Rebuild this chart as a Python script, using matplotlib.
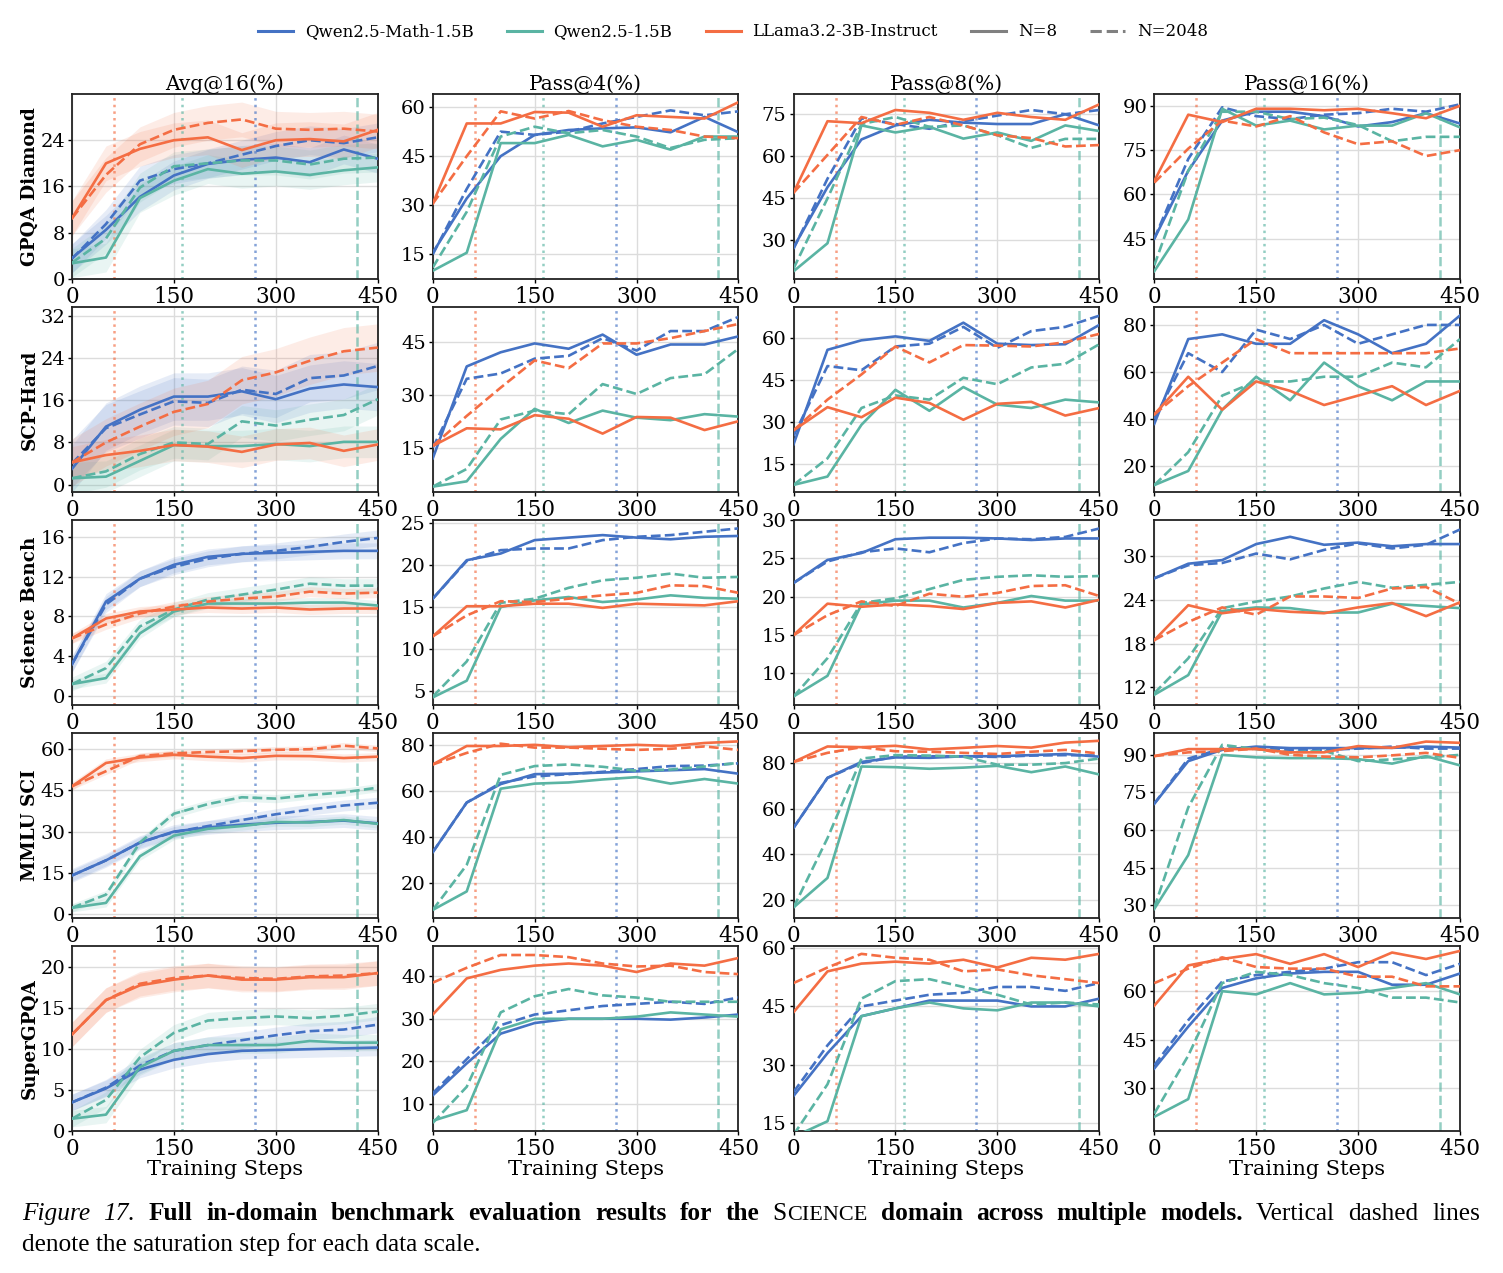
import matplotlib

matplotlib.use("Agg")
import matplotlib.pyplot as plt
import numpy as np
from matplotlib.lines import Line2D

plt.rcParams["font.family"] = ["DejaVu Serif"]

# 学習ステップ
steps = [0, 50, 100, 150, 200, 250, 300, 350, 400, 450]

models = ["Qwen2.5-Math-1.5B", "Qwen2.5-1.5B", "LLama3.2-3B-Instruct"]
colors = ["#4472c4", "#5ab4a3", "#f46d43"]
benchmarks = ["GPQA Diamond", "SCP-Hard", "Science Bench", "MMLU SCI", "SuperGPQA"]
metrics = ["Avg@16(%)", "Pass@4(%)", "Pass@8(%)", "Pass@16(%)"]

# 各系列の順番: Math N=8, Math N=2048, Qwen N=8, Qwen N=2048, Llama N=8, Llama N=2048
gpqa_avg = [
    [3.6, 8.5, 14.2, 17.9, 19.9, 20.6, 21.0, 20.2, 22.4, 20.8],
    [3.5, 9.5, 17.0, 19.0, 20.0, 21.5, 23.0, 24.0, 23.5, 24.5],
    [2.7, 3.7, 14.0, 17.0, 19.0, 18.2, 18.6, 18.0, 18.8, 19.3],
    [2.8, 7.0, 15.8, 19.5, 20.0, 20.5, 20.5, 19.8, 20.8, 21.0],
    [10.5, 20.0, 22.5, 24.0, 24.5, 22.3, 24.0, 24.2, 23.8, 25.8],
    [10.5, 18.0, 23.3, 25.8, 27.0, 27.6, 26.0, 25.8, 26.0, 25.5],
]
gpqa_p4 = [
    [15.5, 32.1, 45.0, 51.5, 53.0, 53.5, 53.8, 52.3, 57.0, 52.3],
    [15.0, 35.0, 52.5, 51.5, 52.5, 55.0, 57.0, 59.0, 57.5, 58.7],
    [10.0, 15.5, 49.0, 49.0, 51.5, 48.0, 50.0, 47.0, 51.0, 51.0],
    [11.0, 28.0, 51.0, 54.0, 52.0, 53.0, 51.0, 47.5, 50.0, 50.5],
    [30.5, 55.0, 55.0, 58.5, 58.3, 54.0, 57.5, 57.0, 56.5, 61.5],
    [30.5, 45.0, 58.7, 56.5, 58.8, 56.0, 54.0, 53.0, 51.0, 50.5],
]
gpqa_p8 = [
    [27.5, 49.0, 66.0, 71.0, 73.0, 72.0, 71.5, 71.5, 75.0, 71.0],
    [27.0, 52.0, 73.5, 71.5, 69.8, 72.5, 74.5, 76.5, 75.0, 76.5],
    [19.0, 29.0, 71.0, 68.5, 70.5, 66.3, 68.5, 65.5, 71.0, 69.0],
    [20.0, 45.0, 71.5, 74.0, 70.5, 71.0, 67.5, 63.0, 66.2, 66.2],
    [47.0, 72.5, 71.8, 76.5, 75.5, 73.0, 75.5, 74.0, 73.0, 78.5],
    [47.0, 60.5, 74.0, 71.2, 74.0, 71.0, 67.5, 66.5, 63.5, 64.0],
]
gpqa_p16 = [
    [45.0, 68.0, 85.0, 88.0, 88.0, 86.5, 83.0, 84.5, 87.5, 84.0],
    [45.0, 72.0, 89.5, 86.5, 85.5, 87.0, 87.5, 89.0, 88.0, 90.5],
    [34.0, 51.5, 89.0, 83.3, 85.0, 82.0, 83.3, 83.3, 87.5, 82.7],
    [36.0, 68.0, 88.0, 88.0, 85.5, 86.0, 83.5, 78.0, 79.5, 79.5],
    [64.5, 87.0, 84.5, 89.0, 89.0, 88.5, 89.0, 87.5, 85.8, 90.0],
    [64.0, 75.5, 85.0, 83.0, 86.5, 81.0, 77.0, 78.0, 73.0, 75.0],
]

scp_avg = [
    [3.0, 11.0, 14.2, 16.7, 16.7, 17.7, 16.2, 18.2, 19.0, 18.5],
    [4.0, 10.7, 13.3, 15.8, 15.5, 18.0, 17.2, 20.2, 20.7, 22.5],
    [1.2, 1.5, 4.5, 7.5, 7.3, 7.3, 7.7, 7.3, 8.1, 8.1],
    [1.2, 2.5, 5.8, 8.0, 7.7, 12.0, 11.2, 12.3, 13.2, 16.2],
    [4.2, 5.6, 6.4, 7.5, 7.2, 6.2, 7.6, 7.9, 6.4, 7.6],
    [4.2, 8.0, 11.0, 13.8, 15.3, 19.8, 21.3, 23.5, 25.3, 26.0],
]
scp_p4 = [
    [12.0, 38.0, 42.0, 44.5, 43.0, 47.0, 41.3, 44.2, 44.2, 46.5],
    [15.0, 34.5, 36.0, 40.2, 41.0, 46.0, 42.5, 48.0, 48.0, 52.0],
    [4.0, 5.5, 17.5, 26.0, 22.0, 25.5, 23.5, 22.8, 24.5, 23.8],
    [4.0, 9.0, 23.0, 25.5, 24.5, 33.0, 30.2, 34.7, 35.8, 43.0],
    [15.5, 20.5, 20.2, 24.2, 23.2, 19.0, 23.7, 23.5, 20.0, 22.5],
    [15.5, 24.0, 32.0, 39.7, 37.5, 44.5, 44.5, 46.0, 48.0, 50.0],
]
scp_p8 = [
    [22.0, 55.8, 59.2, 60.6, 59.0, 65.5, 58.0, 57.5, 57.8, 64.7],
    [25.0, 50.0, 48.5, 57.0, 58.0, 64.0, 56.5, 62.5, 64.0, 68.0],
    [7.5, 10.5, 29.0, 41.5, 34.0, 42.5, 36.2, 35.0, 38.0, 37.0],
    [7.5, 17.0, 35.0, 39.5, 38.0, 45.8, 43.5, 49.5, 50.8, 57.8],
    [27.0, 35.3, 31.7, 38.7, 36.8, 30.8, 36.5, 37.2, 32.3, 35.0],
    [27.0, 38.0, 47.0, 57.0, 51.3, 57.5, 57.3, 57.0, 58.5, 61.5],
]
scp_p16 = [
    [38.0, 74.0, 76.0, 72.0, 72.0, 82.0, 76.0, 68.0, 72.0, 84.0],
    [40.0, 68.0, 60.0, 78.0, 74.0, 80.0, 72.0, 76.0, 80.0, 80.0],
    [12.0, 18.0, 44.0, 58.0, 48.0, 64.0, 54.0, 48.0, 56.0, 56.0],
    [12.0, 26.0, 50.0, 56.0, 56.0, 58.0, 58.0, 64.0, 62.0, 74.0],
    [42.0, 58.0, 44.0, 56.0, 52.0, 46.0, 50.0, 54.0, 46.0, 52.0],
    [42.0, 54.0, 64.0, 74.0, 68.0, 68.0, 68.0, 68.0, 68.0, 70.0],
]

sci_avg = [
    [3.2, 9.5, 11.8, 13.2, 14.0, 14.3, 14.4, 14.5, 14.6, 14.6],
    [3.2, 9.2, 11.8, 13.0, 13.8, 14.3, 14.6, 15.0, 15.5, 15.9],
    [1.2, 1.8, 6.3, 8.5, 9.3, 9.3, 9.3, 9.4, 9.4, 9.1],
    [1.2, 2.8, 7.0, 8.7, 9.7, 10.2, 10.7, 11.3, 11.1, 11.1],
    [5.8, 7.8, 8.5, 8.7, 8.9, 8.8, 8.9, 8.7, 8.8, 8.8],
    [5.8, 7.2, 8.3, 9.0, 9.5, 9.8, 10.0, 10.5, 10.3, 10.4],
]
sci_p4 = [
    [16.0, 20.6, 21.4, 23.0, 23.3, 23.6, 23.3, 23.1, 23.4, 23.5],
    [16.0, 20.5, 21.8, 22.0, 22.0, 23.0, 23.4, 23.6, 24.0, 24.4],
    [4.2, 6.2, 15.0, 15.8, 16.2, 15.6, 15.9, 16.4, 16.1, 16.0],
    [4.3, 8.5, 15.5, 16.0, 17.3, 18.2, 18.5, 19.0, 18.5, 18.6],
    [11.5, 15.1, 15.1, 15.4, 15.4, 14.9, 15.4, 15.3, 15.2, 15.7],
    [11.5, 14.0, 15.7, 15.6, 16.0, 16.4, 16.7, 17.6, 17.5, 16.7],
]
sci_p8 = [
    [21.8, 24.8, 25.7, 27.5, 27.7, 27.7, 27.6, 27.4, 27.6, 27.6],
    [21.8, 24.6, 25.8, 26.3, 25.8, 27.0, 27.6, 27.5, 27.8, 28.9],
    [7.0, 9.7, 19.0, 19.5, 19.5, 18.6, 19.2, 20.1, 19.5, 19.5],
    [7.0, 12.0, 19.2, 19.8, 21.0, 22.2, 22.6, 22.8, 22.6, 22.7],
    [15.0, 19.1, 18.7, 19.0, 18.8, 18.4, 19.2, 19.4, 18.6, 19.6],
    [15.0, 17.6, 19.4, 18.8, 20.4, 20.0, 20.5, 21.4, 21.5, 20.1],
]
sci_p16 = [
    [27.0, 29.0, 29.5, 31.7, 32.7, 31.6, 31.9, 31.4, 31.7, 31.7],
    [27.0, 28.8, 29.1, 30.4, 29.6, 30.9, 31.8, 31.1, 31.6, 33.7],
    [11.0, 13.7, 22.5, 23.0, 22.9, 22.3, 22.3, 23.5, 23.2, 22.9],
    [11.2, 16.0, 22.9, 23.8, 24.5, 25.6, 26.5, 25.7, 26.1, 26.5],
    [18.5, 23.3, 22.2, 22.8, 22.4, 22.2, 23.0, 23.6, 21.8, 23.7],
    [18.5, 21.0, 23.0, 22.0, 24.5, 24.5, 24.3, 25.6, 25.8, 23.5],
]

mmlu_avg = [
    [14.0, 19.5, 26.0, 30.0, 31.5, 32.5, 33.2, 33.5, 34.0, 33.0],
    [14.0, 19.5, 26.0, 29.8, 32.0, 34.2, 36.3, 38.0, 39.5, 40.5],
    [2.2, 4.0, 21.0, 28.5, 31.0, 32.0, 33.5, 33.3, 34.2, 32.8],
    [2.2, 7.0, 26.0, 36.5, 40.0, 42.5, 42.0, 43.3, 44.3, 46.0],
    [46.5, 55.0, 57.0, 58.0, 57.3, 56.8, 57.6, 57.5, 56.8, 57.3],
    [46.5, 52.0, 57.5, 58.5, 59.0, 59.3, 59.8, 60.0, 61.3, 60.3],
]
mmlu_p4 = [
    [33.5, 55.0, 63.0, 67.3, 67.5, 68.0, 68.5, 69.0, 69.5, 67.5],
    [33.5, 55.0, 63.5, 66.3, 67.3, 68.3, 69.5, 70.8, 71.0, 72.0],
    [8.5, 16.5, 61.0, 63.2, 63.7, 65.0, 66.0, 63.2, 65.2, 63.2],
    [8.5, 28.0, 67.0, 70.8, 71.5, 70.5, 68.8, 69.3, 70.6, 72.2],
    [71.5, 79.5, 79.5, 80.0, 79.0, 79.5, 80.0, 79.5, 80.8, 81.5],
    [71.5, 76.5, 80.5, 78.8, 78.8, 78.3, 77.8, 78.3, 79.3, 77.8],
]
mmlu_p8 = [
    [51.5, 73.5, 80.5, 82.5, 82.3, 83.0, 83.0, 83.5, 84.0, 82.8],
    [51.5, 73.5, 80.0, 82.8, 83.0, 83.0, 82.7, 83.3, 83.5, 83.3],
    [16.5, 29.5, 78.5, 78.2, 77.5, 78.0, 78.8, 76.0, 78.5, 75.0],
    [16.5, 47.0, 82.0, 83.5, 83.3, 82.8, 79.3, 79.3, 80.0, 82.0],
    [80.5, 87.3, 87.0, 87.6, 86.0, 86.7, 87.5, 86.8, 89.0, 89.8],
    [80.5, 84.5, 87.0, 85.2, 85.0, 84.5, 84.0, 85.0, 85.8, 84.2],
]
mmlu_p16 = [
    [70.5, 87.5, 92.0, 93.3, 92.7, 92.7, 92.7, 92.8, 93.3, 92.9],
    [70.5, 88.5, 92.5, 92.5, 92.0, 92.0, 92.5, 93.3, 92.5, 92.5],
    [28.5, 50.0, 90.0, 89.0, 88.7, 88.7, 88.3, 86.5, 89.5, 85.8],
    [29.0, 69.0, 94.0, 92.3, 91.0, 91.6, 87.5, 88.2, 89.0, 90.0],
    [89.5, 92.3, 92.3, 92.3, 91.0, 91.0, 93.5, 92.8, 95.3, 94.8],
    [89.5, 91.0, 91.5, 92.5, 90.0, 89.3, 89.0, 89.8, 90.8, 88.8],
]

sgpqa_avg = [
    [3.5, 5.2, 7.5, 8.7, 9.4, 9.8, 9.9, 10.0, 10.1, 10.2],
    [3.5, 5.3, 8.0, 9.8, 10.5, 11.1, 11.7, 12.2, 12.4, 13.0],
    [1.5, 2.0, 7.8, 9.8, 10.5, 10.5, 10.5, 11.0, 10.8, 10.8],
    [1.5, 3.8, 9.0, 12.0, 13.5, 13.8, 14.0, 13.8, 14.1, 14.6],
    [11.8, 16.0, 17.8, 18.5, 19.0, 18.5, 18.5, 18.8, 18.8, 19.3],
    [11.8, 16.0, 18.0, 18.7, 19.0, 18.7, 18.6, 18.9, 19.0, 19.3],
]
sgpqa_p4 = [
    [12.0, 19.5, 26.5, 29.0, 30.0, 30.0, 30.0, 29.8, 30.3, 31.0],
    [12.5, 20.5, 28.5, 31.0, 32.0, 33.0, 33.5, 34.0, 33.5, 35.0],
    [6.0, 8.5, 27.5, 30.0, 30.0, 30.0, 30.5, 31.5, 31.0, 30.5],
    [5.5, 14.0, 31.5, 35.3, 37.0, 35.5, 35.0, 34.0, 34.0, 34.0],
    [31.0, 39.5, 41.5, 42.5, 43.0, 42.5, 41.0, 43.0, 42.5, 44.3],
    [38.5, 42.0, 45.0, 45.0, 44.5, 43.0, 42.3, 42.5, 41.0, 40.5],
]
sgpqa_p8 = [
    [22.0, 33.0, 42.5, 44.5, 46.5, 46.5, 46.5, 45.0, 45.0, 47.0],
    [23.0, 35.0, 45.0, 46.5, 48.0, 48.5, 50.0, 50.0, 49.0, 51.0],
    [11.5, 15.5, 42.5, 44.5, 46.0, 44.5, 44.0, 46.0, 46.0, 45.0],
    [12.0, 25.0, 47.0, 51.5, 52.0, 50.0, 48.0, 45.5, 46.0, 45.5],
    [43.5, 54.0, 56.0, 56.5, 56.0, 57.0, 55.0, 57.5, 57.0, 58.5],
    [51.0, 55.0, 58.5, 57.5, 57.0, 54.0, 54.5, 53.0, 52.0, 51.0],
]
sgpqa_p16 = [
    [36.0, 49.0, 61.0, 64.0, 65.5, 66.0, 66.0, 62.0, 62.0, 65.5],
    [37.0, 51.0, 63.0, 65.0, 66.0, 67.0, 69.0, 69.0, 65.0, 68.5],
    [21.0, 26.5, 60.0, 59.0, 62.5, 59.0, 59.5, 61.0, 62.5, 59.0],
    [22.0, 40.0, 62.5, 66.0, 65.0, 62.5, 61.0, 58.0, 58.0, 56.5],
    [55.5, 68.0, 70.0, 71.5, 68.5, 71.5, 67.5, 72.0, 70.0, 72.5],
    [62.5, 67.0, 70.5, 67.5, 67.0, 67.0, 64.5, 64.5, 61.5, 61.5],
]

# Avg@16 の標準偏差帯 (半幅)
gpqa_band = [2.5, 2.5, 2.5, 2.5, 3.0, 3.0]
scp_band = [4.5, 4.5, 3.0, 3.0, 3.0, 4.5]
sci_band = [0.8, 0.8, 0.5, 0.7, 0.5, 0.5]
mmlu_band = [2.5, 2.0, 1.5, 1.5, 1.5, 1.2]
sgpqa_band = [1.0, 1.0, 1.0, 1.0, 1.5, 1.5]

# y 軸目盛り
yticks = [
    [[0, 8, 16, 24], [15, 30, 45, 60], [30, 45, 60, 75], [45, 60, 75, 90]],
    [[0, 8, 16, 24, 32], [15, 30, 45], [15, 30, 45, 60], [20, 40, 60, 80]],
    [[0, 4, 8, 12, 16], [5, 10, 15, 20, 25], [10, 15, 20, 25, 30], [12, 18, 24, 30]],
    [[0, 15, 30, 45, 60], [20, 40, 60, 80], [20, 40, 60, 80], [30, 45, 60, 75, 90]],
    [[0, 5, 10, 15, 20], [10, 20, 30, 40], [15, 30, 45, 60], [30, 45, 60]],
]
ylims = [
    [(0, 32), (7.5, 64), (16.3, 82.2), (31.4, 94)],
    [(-1.4, 33.7), (2.5, 54.8), (5, 71.1), (9.1, 87.6)],
    [(-0.9, 17.7), (3.3, 25.4), (5.9, 30), (9.6, 35)],
    [(-1.5, 65.9), (5, 85.1), (11.9, 93.2), (24.9, 98.7)],
    [(0, 22.6), (3.6, 47.1), (13, 60.5), (16.6, 74)],
]

# 飽和ステップ (縦線)
sat_steps = [62, 162, 269, 420]
sat_colors = [colors[2], colors[1], colors[0], colors[1]]
sat_styles = [":", ":", ":", "--"]

data = [
    [gpqa_avg, gpqa_p4, gpqa_p8, gpqa_p16],
    [scp_avg, scp_p4, scp_p8, scp_p16],
    [sci_avg, sci_p4, sci_p8, sci_p16],
    [mmlu_avg, mmlu_p4, mmlu_p8, mmlu_p16],
    [sgpqa_avg, sgpqa_p4, sgpqa_p8, sgpqa_p16],
]
bands = [gpqa_band, scp_band, sci_band, mmlu_band, sgpqa_band]

W, H = 1503, 1273
fig, axes = plt.subplots(5, 4, figsize=(W / 100, H / 100), dpi=100)
fig.subplots_adjust(
    left=72 / W, right=1460 / W, top=1 - 94 / H, bottom=1 - 1131 / H,
    wspace=0.18, hspace=0.152,
)

x = np.array(steps)
for r in range(5):
    for c in range(4):
        ax = axes[r, c]
        series = data[r][c]
        for s in range(6):
            col = colors[s // 2]
            ls = "-" if s % 2 == 0 else "--"
            y = np.array(series[s])
            if c == 0:
                ax.fill_between(x, y - bands[r][s], y + bands[r][s],
                                color=col, alpha=0.13, lw=0)
            ax.plot(x, y, color=col, ls=ls, lw=1.9, zorder=3)
        for sx, sc, st in zip(sat_steps, sat_colors, sat_styles):
            ax.axvline(sx, color=sc, ls=st, lw=1.8, alpha=0.65, zorder=2)
        ax.set_xlim(0, 450)
        ax.set_xticks([0, 150, 300, 450])
        ax.set_yticks(yticks[r][c])
        ax.set_ylim(*ylims[r][c])
        ax.grid(True, color="#dcdcdc", lw=1.0, zorder=0)
        ax.set_axisbelow(True)
        ax.tick_params(length=3, width=1, pad=2)
        ax.tick_params(axis="x", labelsize=15.5)
        ax.tick_params(axis="y", labelsize=14)
        for sp in ax.spines.values():
            sp.set_linewidth(1.3)
            sp.set_color("#222222")
        if r == 0:
            ax.set_title(metrics[c], fontsize=14.5, pad=3)
        if c == 0:
            ax.set_ylabel(benchmarks[r], fontsize=13.2, fontweight="bold", labelpad=1)
        if r == 4:
            ax.set_xlabel("Training Steps", fontsize=15, labelpad=0)

# 凡例
handles = [Line2D([], [], color=colors[i], lw=2.2) for i in range(3)]
handles += [Line2D([], [], color="#808080", lw=2.2, ls="-"),
            Line2D([], [], color="#808080", lw=2.2, ls="--")]
labels = models + ["N=8", "N=2048"]
fig.legend(handles, labels, loc="center", bbox_to_anchor=(733 / W, 1 - 32 / H),
           ncol=5, frameon=False, fontsize=12, handlelength=2.1,
           columnspacing=2.0, handletextpad=0.7)

# キャプション (1行目は両端揃え)
cap_font = ["Liberation Serif", "DejaVu Serif"]
fs = 18.3
reg = dict(fontsize=fs)
bold = dict(fontsize=fs, weight="bold")
ital = dict(fontsize=fs, style="italic")
line1 = [
    [("Figure", ital)], [("17.", ital)],
]
for w in "Full in-domain benchmark evaluation results for the".split():
    line1.append([(w, bold)])
line1.append([("S", reg), ("CIENCE", dict(fontsize=16))])
for w in "domain across multiple models.".split():
    line1.append([(w, bold)])
for w in "Vertical dashed lines".split():
    line1.append([(w, reg)])

fig.canvas.draw()
renderer = fig.canvas.get_renderer()
x_left, x_right = 22, 1480
y1 = 1 - 1220 / H
tokens = []
total = 0
for tok in line1:
    parts = []
    tw = 0
    for txt, kw in tok:
        t = fig.text(0, y1, txt, family=cap_font, va="baseline", **kw)
        wdt = t.get_window_extent(renderer).width
        parts.append((t, wdt))
        tw += wdt
    tokens.append(parts)
    total += tw
gap = (x_right - x_left - total) / (len(tokens) - 1)
xpos = x_left
for parts in tokens:
    for t, wdt in parts:
        t.set_x(xpos / W)
        xpos += wdt
    xpos += gap

fig.text(x_left / W, 1 - 1251 / H, "denote the saturation step for each data scale.",
         family=cap_font, va="baseline", **reg)

fig.savefig("out.png", dpi=100)
